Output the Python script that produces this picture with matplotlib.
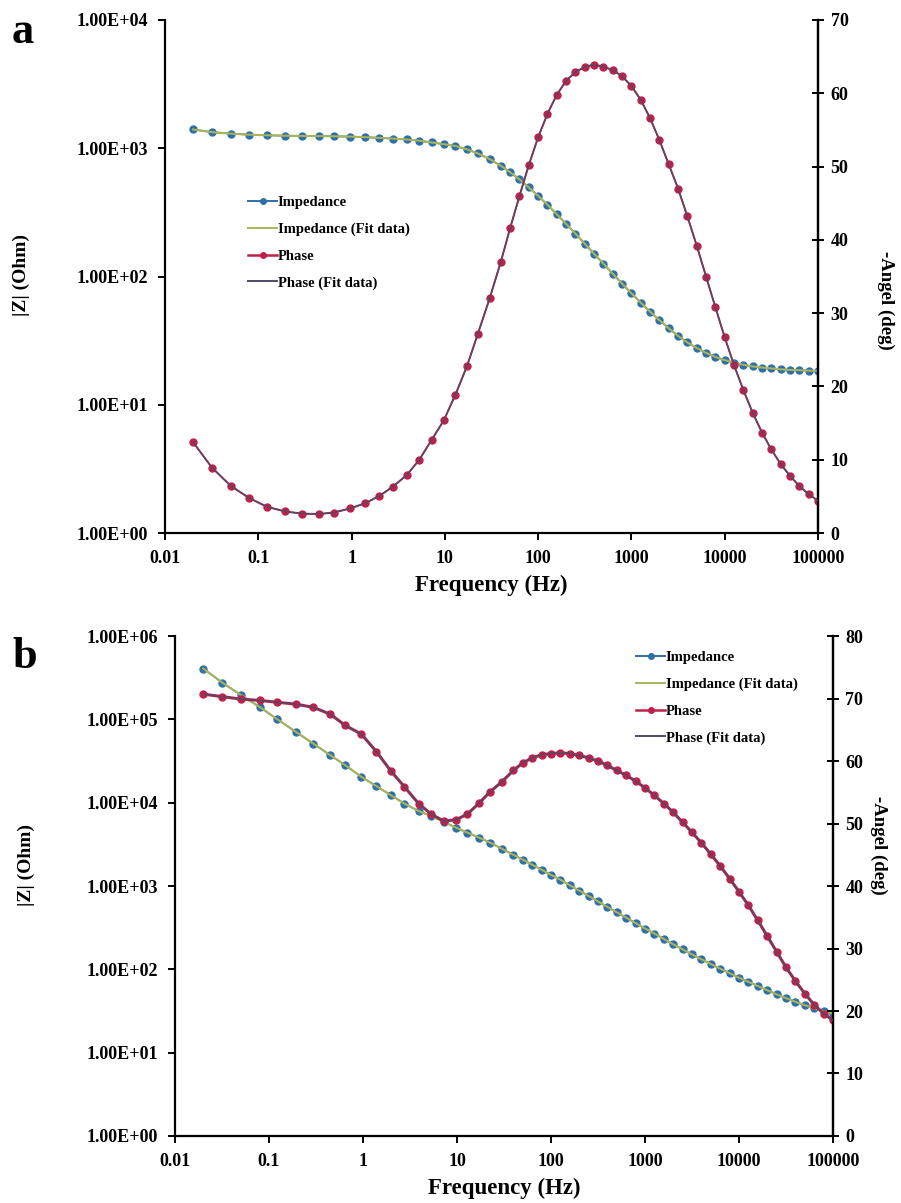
import matplotlib
matplotlib.use("Agg")
import matplotlib.pyplot as plt
from matplotlib.lines import Line2D
import matplotlib.ticker as mticker

plt.rcParams["font.family"] = ["Liberation Serif", "DejaVu Serif"]
plt.rcParams["font.weight"] = "bold"

# measured frequencies (Hz), shared by both samples
freq = [0.02, 0.032, 0.0506, 0.0794, 0.123, 0.193, 0.295, 0.448, 0.647, 0.962,
        1.39, 1.98, 2.75, 3.9, 5.32, 7.21, 9.77, 12.9, 17.3, 22.6,
        30.2, 39.8, 50.1, 63.1, 79.4, 100, 125.9, 158.5, 199.5, 251.2,
        316.2, 398.1, 501.2, 631, 794.3, 1000, 1259, 1585, 1995, 2512,
        3162, 3981, 5012, 6310, 7943, 10000, 12589, 15849, 19953, 25119,
        31623, 39811, 50119, 63096, 79433, 100000]

# sample a: |Z| (Ohm) and -phase (deg)
zmod_a = [1400, 1335, 1300, 1275, 1262, 1252, 1247, 1243, 1240, 1232,
          1220, 1205, 1190, 1170, 1145, 1110, 1075, 1042, 980, 910,
          823, 730, 650, 571, 495, 425, 362, 306, 257, 216,
          180, 150, 126, 105, 88, 74, 62.6, 53.2, 45.6, 39.5,
          34.4, 30.6, 27.7, 25.4, 23.6, 22.3, 21.3, 20.5, 19.9, 19.5,
          19.2, 18.9, 18.7, 18.6, 18.45, 18.4]
phase_a = [12.4, 8.9, 6.45, 4.8, 3.6, 2.95, 2.65, 2.6, 2.8, 3.35,
           4.05, 5.05, 6.3, 7.9, 10.0, 12.7, 15.4, 18.8, 22.8, 27.2,
           32, 37, 41.6, 46, 50.2, 54, 57.2, 59.8, 61.7, 62.9,
           63.6, 63.9, 63.6, 63.2, 62.3, 61.0, 59.1, 56.6, 53.6, 50.3,
           47, 43.2, 39.2, 35, 30.8, 26.7, 22.9, 19.5, 16.4, 13.7,
           11.4, 9.4, 7.8, 6.4, 5.3, 4.4]

# sample b
zmod_b = [407000, 275000, 195000, 141000, 100000, 70800, 51300, 37200, 28200, 20400,
          15800, 12300, 9770, 7940, 6920, 5890, 5010, 4370, 3800, 3310,
          2790, 2370, 2070, 1800, 1570, 1360, 1190, 1020, 881, 759,
          653, 562, 484, 417, 359, 309, 269, 232, 200, 174,
          151, 132, 116, 102, 90.2, 79.4, 70.8, 63.1, 56.2, 50.1,
          45.2, 40.7, 37.2, 33.9, 31.6, 29.5]
phase_b = [70.7, 70.3, 69.9, 69.7, 69.4, 69.1, 68.6, 67.5, 65.7, 64.3,
           61.5, 58.4, 55.9, 53.2, 51.5, 50.4, 50.6, 51.5, 53.3, 55.1,
           56.7, 58.5, 59.7, 60.5, 61.0, 61.2, 61.3, 61.2, 60.9, 60.5,
           60.0, 59.3, 58.5, 57.7, 56.8, 55.7, 54.5, 53.2, 51.8, 50.2,
           48.6, 46.9, 45.1, 43.2, 41.2, 39.1, 36.9, 34.5, 32.0, 29.5,
           27.0, 24.8, 22.8, 21.0, 19.6, 18.5]

FREQ_TICKS = [0.01, 0.1, 1, 10, 100, 1000, 10000, 100000]
LEG = ["Impedance", "Impedance (Fit data)", "Phase", "Phase (Fit data)"]
C_Z = "#2f6fa8"
C_ZFIT = "#a8b45c"
C_P = "#bd2149"
C_PFIT = "#4f4a66"

fig = plt.figure(figsize=(9.01, 12.03), dpi=100)


def panel(rect, z, ph, zdecades, phmax, phase_lw, xlab_y, ylab_xy, alab_xy, leg_xy):
    ax = fig.add_axes(rect)
    ax.plot(freq, z, "-o", color=C_Z, ms=5, lw=1.2, zorder=2)
    ax.plot(freq, z, "-", color=C_ZFIT, lw=1.5, zorder=3)
    ax.set_xscale("log")
    ax.set_yscale("log")
    ax.set_xlim(FREQ_TICKS[0], FREQ_TICKS[-1])
    ax.set_ylim(1, 10 ** zdecades)
    ax.set_xticks(FREQ_TICKS)
    ax.set_yticks([10 ** k for k in range(zdecades + 1)])
    ax.xaxis.set_major_formatter(mticker.FuncFormatter(lambda v, p: f"{v:g}"))
    ax.yaxis.set_major_formatter(mticker.FuncFormatter(lambda v, p: f"{v:.2E}"))
    ax.xaxis.set_minor_locator(mticker.NullLocator())
    ax.yaxis.set_minor_locator(mticker.NullLocator())
    ax.set_xlabel("Frequency (Hz)", fontsize=16.5, fontweight="bold")
    ax.xaxis.set_label_coords(0.5, xlab_y)
    ax.set_ylabel("|Z| (Ohm)", fontsize=14, fontweight="bold")
    ax.yaxis.set_label_coords(*ylab_xy)

    ax2 = ax.twinx()
    ax2.plot(freq, ph, "-o", color=C_P, ms=5, lw=phase_lw, zorder=2)
    ax2.plot(freq, ph, "-", color=C_PFIT, lw=1.0, zorder=3)
    ax2.set_ylim(0, phmax)
    ax2.set_yticks(range(0, phmax + 1, 10))
    ax2.set_ylabel("-Angel (deg)", fontsize=13.5, fontweight="bold", rotation=270,
                   va="center")
    ax2.yaxis.set_label_coords(*alab_xy)
    ax2.xaxis.set_visible(False)

    for a in (ax, ax2):
        a.spines["top"].set_visible(False)
        for s in a.spines.values():
            s.set_linewidth(1.6)
        a.tick_params(labelsize=13, width=1.4, length=5, pad=7)
    ax2.spines["left"].set_visible(False)
    ax2.spines["bottom"].set_visible(False)
    ax2.tick_params(direction="inout", length=8, pad=5)

    handles = [
        Line2D([], [], color=C_Z, marker="o", ms=4, lw=1.4),
        Line2D([], [], color=C_ZFIT, lw=1.4),
        Line2D([], [], color=C_P, marker="o", ms=4, lw=1.8),
        Line2D([], [], color=C_PFIT, lw=1.4),
    ]
    fig.legend(handles, LEG, frameon=False, prop={"size": 10.5, "weight": "bold"},
               handlelength=2.0, handletextpad=0.05, labelspacing=0.92,
               borderpad=0, borderaxespad=0, loc="upper left",
               bbox_to_anchor=leg_xy, bbox_transform=fig.transFigure)
    return ax, ax2


panel([0.1831, 0.5569, 0.7248, 0.4265], zmod_a, phase_a, 4, 70, 1.4,
      -0.082, (-0.207, 0.503), (1.103, 0.454), (248 / 901, 1 - 196 / 1203))
panel([0.1942, 0.0557, 0.7303, 0.4156], zmod_b, phase_b, 6, 80, 2.2,
      -0.084, (-0.213, 0.542), (1.07, 0.582), (636 / 901, 1 - 651 / 1203))

fig.text(12 / 901, 1 - 43 / 1203, "a", fontsize=32, fontweight="bold", va="baseline")
fig.text(12 / 901, 1 - 668 / 1203, "b", fontsize=32, fontweight="bold", va="baseline")

fig.savefig("out.png", dpi=100)
